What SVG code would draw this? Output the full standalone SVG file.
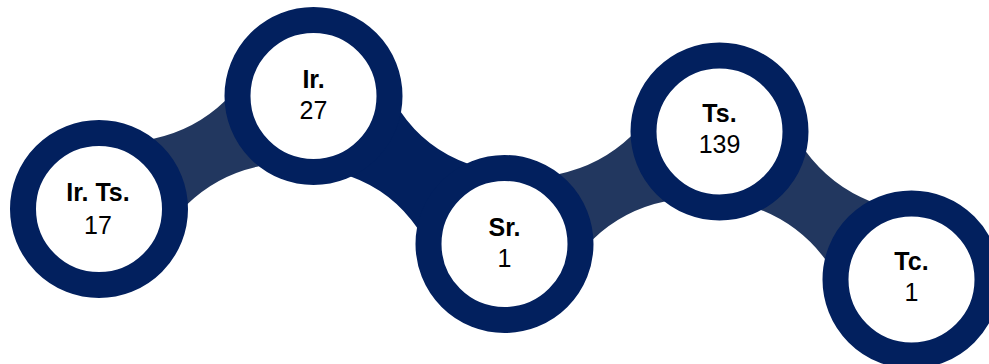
<svg xmlns="http://www.w3.org/2000/svg" width="989" height="364" viewBox="0 0 989 364">
  <style>
    .ring { fill: #ffffff; stroke: #02205e; stroke-width: 26; }
    .band { fill: #22375f; }
    .band.strong { fill: #02205e; }
    .lbl { font-family: "Liberation Sans", Arial, sans-serif; font-size: 25px; font-weight: bold; fill: #000; text-anchor: middle; }
    .num { font-family: "Liberation Sans", Arial, sans-serif; font-size: 25px; fill: #000; text-anchor: middle; }
  </style>
  <g id="connectors">
    <path class="band" transform="translate(99,209) rotate(-27.78)" d="M 80,-37 Q 121.2,-25 162.4,-37 L 162.4,37 Q 121.2,25 80,37 Z"/>
    <path class="band strong" transform="translate(313.5,96) rotate(37.77)" d="M 78,-41 Q 120.8,-27 163.6,-41 L 163.6,41 Q 120.8,27 78,41 Z"/>
    <path class="band" transform="translate(504.5,244) rotate(-27.62)" d="M 80,-37 Q 121.35,-25 162.7,-37 L 162.7,37 Q 121.35,25 80,37 Z"/>
    <path class="band" transform="translate(719.5,131.5) rotate(37.63)" d="M 80,-37 Q 121.45,-25 162.9,-37 L 162.9,37 Q 121.45,25 80,37 Z"/>
  </g>
  <g id="node-irts">
    <circle class="ring" cx="99" cy="209" r="76"/>
    <text class="lbl" x="98" y="201">Ir. Ts.</text>
    <text class="num" x="98" y="234">17</text>
  </g>
  <g id="node-ir">
    <circle class="ring" cx="313.5" cy="96" r="76"/>
    <text class="lbl" x="313.5" y="88">Ir.</text>
    <text class="num" x="313.5" y="119">27</text>
  </g>
  <g id="node-sr">
    <circle class="ring" cx="504.5" cy="244" r="76"/>
    <text class="lbl" x="504.5" y="236">Sr.</text>
    <text class="num" x="504.5" y="267">1</text>
  </g>
  <g id="node-ts">
    <circle class="ring" cx="719.5" cy="131.5" r="76"/>
    <text class="lbl" x="719.5" y="122">Ts.</text>
    <text class="num" x="719.5" y="153">139</text>
  </g>
  <g id="node-tc">
    <circle class="ring" cx="911.5" cy="279.5" r="76"/>
    <text class="lbl" x="911.5" y="270">Tc.</text>
    <text class="num" x="911.5" y="301">1</text>
  </g>
</svg>
